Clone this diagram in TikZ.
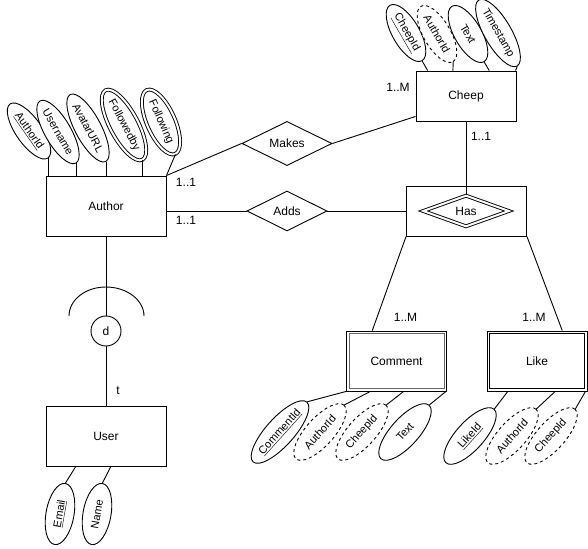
\documentclass[tikz,border=0pt]{standalone}
\usepackage{fontspec}
\setmainfont{Liberation Sans}
\usetikzlibrary{shapes.geometric,calc}
\begin{document}
\begin{tikzpicture}[x=1pt,y=-1pt,line width=0.9pt,
 every node/.style={font=\fontsize{12}{14}\selectfont},
 entity/.style={draw,rectangle,minimum width=120pt,minimum height=60pt,inner sep=0pt},
 attr/.style={draw,ellipse,fill=white,inner sep=0pt,font=\fontsize{11}{13}\selectfont},
 aauth/.style={attr,minimum width=66pt,minimum height=26pt},
 amulti/.style={attr,minimum width=70pt,minimum height=28pt,double,double distance=2pt},
 acheep/.style={attr,minimum width=64pt,minimum height=27pt,rotate=-60},
 acom/.style={attr,minimum width=72pt,minimum height=28pt,rotate=48},
 auser/.style={attr,minimum width=62pt,minimum height=28pt,rotate=80},
 rel/.style={draw,diamond,inner sep=0pt},
 card/.style={inner sep=0pt}
]
\useasboundingbox (0,0) rectangle (588,548);

% entities and relationships
\node[entity] (author) at (106,206) {Author};
\node[entity,minimum width=100pt,minimum height=50pt] (cheep) at (466,96) {Cheep};
\node[draw,minimum width=120pt,minimum height=50pt,inner sep=0pt] (hasbox) at (466.5,211) {};
\node[rel,double,double distance=2pt,minimum width=86pt,minimum height=31pt] (has) at (466,211) {Has};
\node[entity,minimum width=100pt] (comment) at (396.5,361) {Comment};
\draw[black!60] ([shift={(3pt,-3pt)}]comment.north west) rectangle ([shift={(-3pt,3pt)}]comment.south east);
\node[entity,minimum width=100pt] (like) at (537,361) {Like};
\draw ([shift={(3pt,-3pt)}]like.north west) rectangle ([shift={(-3pt,3pt)}]like.south east);
\node[rel,minimum width=90pt,minimum height=39pt] (makes) at (287,143.5) {Makes};
\node[rel,minimum width=80pt,minimum height=40pt] (adds) at (287,211) {Adds};
\node[entity] (user) at (106,436) {User};
\node[draw,circle,minimum size=30pt,inner sep=0pt] (d) at (106,331) {d};

% specialisation arc
\draw (69,316) .. controls (69,300) and (85.3,287) .. (106,287) .. controls (126.7,287) and (144,300) .. (144,316);

% connectors
\draw (author.south) -- (d.north);
\draw (d.south) -- (user.north);
\draw (author.north east) -- (makes.west);
\draw (makes.east) -- ($(cheep.south west)+(0,-5)$);
\draw ($(author.east)+(0,5)$) -- (adds.west);
\draw (adds.east) -- (hasbox.west);
\draw (cheep.south) -- (has.north);
\draw (hasbox.south west) -- ($(comment.north west)!0.26!(comment.north east)$);
\draw (hasbox.south east) -- ($(like.north west)!0.75!(like.north east)$);

% cardinalities
\node[card] (l1) at (398,87) {1..M};
\node[card] (l2) at (481,136) {1..1};
\node[card] (l3) at (186,182) {1..1};
\node[card] (l4) at (186,220) {1..1};
\node[card] (l5) at (405.5,317) {1..M};
\node[card] (l6) at (534,317) {1..M};
\node[card] (lt) at (118,391) {t};

% Author attributes
\node[aauth,rotate=-55] (a1) at (29,131) {\underline{AuthorId}};
\node[aauth,rotate=-60] (a2) at (58,132) {Username};
\node[aauth,rotate=-62] (a3) at (88,128) {AvatarURL};
\node[amulti,rotate=-62] (a4) at (124,125) {Followedby};
\node[amulti,rotate=-66] (a5) at (161,122) {Following};
\draw (a1.east) -- (a1.east |- author.north);
\draw (a2.east) -- (a2.east |- author.north);
\draw (a3.east) -- (a3.east |- author.north);
\draw (a4.east) -- (a4.east |- author.north);
\draw (a5.east) -- (author.north east);

% Cheep attributes
\node[acheep] (c1) at (406,33) {\underline{CheepId}};
\node[acheep,dashed] (c2) at (437,34) {AuthorId};
\node[acheep] (c3) at (468,34) {Text};
\node[acheep] (c4) at (498,33) {Timestamp};
\draw (c1.east) -- ($(cheep.north west)!0.12!(cheep.north east)$);
\draw (c2.east) -- ($(cheep.north west)!0.37!(cheep.north east)$);
\draw (c3.east) -- ($(cheep.north west)!0.73!(cheep.north east)$);
\draw (c4.east) -- ($(cheep.north west)!0.99!(cheep.north east)$);

% Comment attributes
\node[acom] (m1) at (280,432) {\underline{CommentId}};
\node[acom,dashed] (m2) at (320,432) {AuthorId};
\node[acom,dashed] (m3) at (362,432) {CheepId};
\node[acom] (m4) at (405,432) {Text};
\draw (m1.east) -- (comment.south west);
\draw (m2.east) -- ($(comment.south west)!0.24!(comment.south east)$);
\draw (m3.east) -- ($(comment.south west)!0.57!(comment.south east)$);
\draw (m4.east) -- ($(comment.south west)!0.99!(comment.south east)$);

% Like attributes
\node[acom] (k1) at (470,436) {\underline{LikeId}};
\node[acom,dashed] (k2) at (512,436) {AuthorId};
\node[acom,dashed] (k3) at (551,436) {CheepId};
\draw (k1.east) -- ($(like.south west)!0.21!(like.south east)$);
\draw (k2.east) -- ($(like.south west)!0.68!(like.south east)$);
\draw (k3.east) -- ($(like.south west)!0.98!(like.south east)$);

% User attributes
\node[auser] (u1) at (60,514) {\underline{Email}};
\node[auser] (u2) at (97,514) {Name};
\draw (u1.east) -- ($(user.south west)!0.25!(user.south east)$);
\draw (u2.east) -- ($(user.south west)!0.54!(user.south east)$);
\end{tikzpicture}
\end{document}
